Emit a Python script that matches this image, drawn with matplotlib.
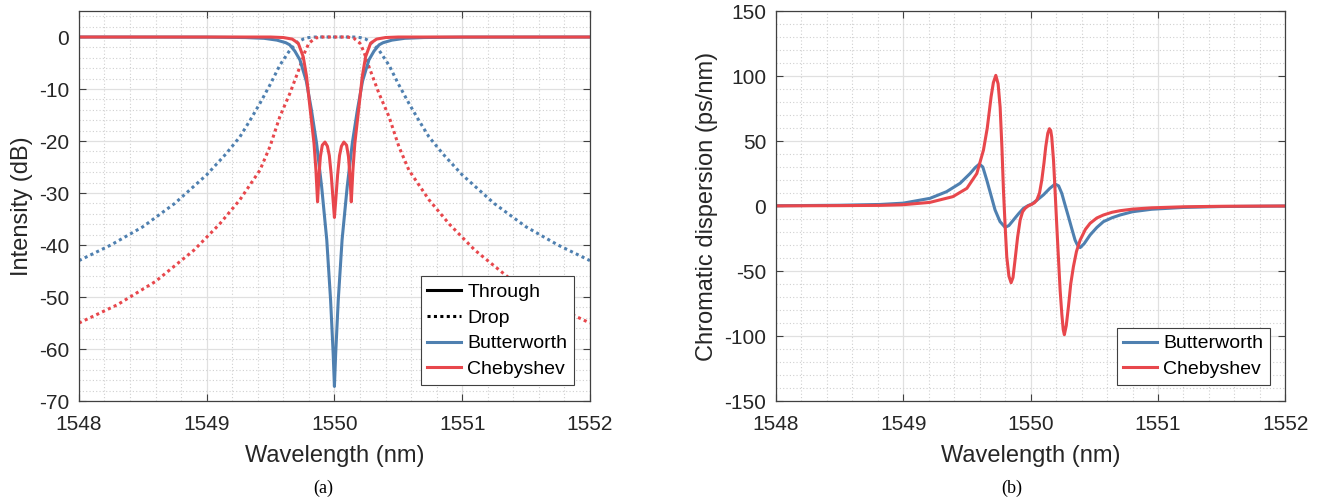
import matplotlib
matplotlib.use("Agg")
import matplotlib.pyplot as plt
from matplotlib.ticker import MultipleLocator

plt.rcParams['font.family'] = ['Liberation Sans', 'DejaVu Sans']
plt.rcParams['axes.unicode_minus'] = False

blue = '#4f80b0'
red = '#e8474c'
axcol = '#404040'

# ---- (a) transmission spectra, intensity in dB ----
wl_bw_thru = [1548.0, 1549.0, 1549.3, 1549.45, 1549.55, 1549.62, 1549.65, 1549.69, 1549.73,
              1549.78, 1549.82, 1549.86, 1549.90, 1549.94, 1549.97, 1549.99, 1550.0,
              1550.01, 1550.03, 1550.06, 1550.10, 1550.14, 1550.18, 1550.22, 1550.27,
              1550.31, 1550.35, 1550.38, 1550.45, 1550.55, 1550.7, 1551.0, 1552.0]
db_bw_thru = [0.0, -0.02, -0.1, -0.25, -0.6, -1.1, -1.5, -2.7, -4.4,
              -8.5, -14.0, -20.4, -28.8, -39.0, -50.6, -60.8, -67.2,
              -60.8, -50.6, -39.0, -28.8, -20.4, -14.0, -8.5, -4.4,
              -2.7, -1.5, -1.1, -0.6, -0.25, -0.1, -0.02, 0.0]

wl_cb_thru = [1548.0, 1549.5, 1549.6, 1549.67, 1549.717, 1549.756, 1549.782, 1549.808,
              1549.84, 1549.855, 1549.868, 1549.878, 1549.89, 1549.905, 1549.926, 1549.945,
              1549.96, 1549.975, 1549.99, 1550.0, 1550.01, 1550.025, 1550.04, 1550.055,
              1550.074, 1550.095, 1550.11, 1550.122, 1550.132, 1550.145, 1550.16, 1550.192,
              1550.218, 1550.244, 1550.283, 1550.33, 1550.4, 1550.5, 1552.0]
db_cb_thru = [0.0, 0.0, -0.1, -0.4, -1.2, -3.8, -7.6, -13.4,
              -20.4, -25.5, -31.7, -27.0, -23.0, -20.8, -20.2, -21.0,
              -22.8, -26.5, -31.5, -34.7, -31.5, -26.5, -22.8, -21.0,
              -20.2, -20.8, -23.0, -27.0, -31.7, -25.5, -20.4, -13.4,
              -7.6, -3.8, -1.2, -0.4, -0.1, 0.0, 0.0]

wl_bw_drop = [1548.0, 1548.25, 1548.5, 1548.75, 1549.0, 1549.15, 1549.26, 1549.34, 1549.417,
              1549.5, 1549.573, 1549.652, 1549.717, 1549.76, 1549.8, 1549.85, 1550.0,
              1550.15, 1550.2, 1550.24, 1550.283, 1550.348, 1550.427, 1550.5, 1550.583,
              1550.66, 1550.74, 1550.85, 1551.0, 1551.25, 1551.5, 1551.75, 1552.0]
db_bw_drop = [-43.0, -40.0, -36.5, -32.0, -26.5, -22.5, -19.2, -16.0, -12.75,
              -9.0, -5.4, -2.5, -0.9, -0.35, -0.1, 0.0, 0.0,
              0.0, -0.1, -0.35, -0.9, -2.5, -5.4, -9.0, -12.75,
              -16.0, -19.2, -22.5, -26.5, -32.0, -36.5, -40.0, -43.0]

wl_cb_drop = [1548.0, 1548.3, 1548.6, 1548.9, 1549.1, 1549.26, 1549.417, 1549.495, 1549.573,
              1549.652, 1549.73, 1549.77, 1549.8, 1549.85, 1549.9, 1550.0,
              1550.1, 1550.15, 1550.2, 1550.23, 1550.27, 1550.348, 1550.427, 1550.505,
              1550.583, 1550.74, 1550.9, 1551.1, 1551.4, 1551.7, 1552.0]
db_cb_drop = [-55.0, -51.5, -47.0, -41.0, -36.0, -31.3, -25.6, -21.1, -15.3,
              -10.8, -5.7, -2.8, -1.2, -0.2, 0.0, 0.0,
              0.0, -0.2, -1.2, -2.8, -5.7, -10.8, -15.3, -21.1,
              -25.6, -31.3, -36.0, -41.0, -47.0, -51.5, -55.0]

# ---- (b) chromatic dispersion, ps/nm ----
wl_bw_cd = [1548.0, 1548.5, 1548.82, 1549.0, 1549.21, 1549.34, 1549.447, 1549.525, 1549.565,
            1549.598, 1549.625, 1549.656, 1549.69, 1549.721, 1549.76, 1549.80, 1549.83,
            1549.865, 1549.905, 1549.944, 1549.98, 1550.009, 1550.05, 1550.10, 1550.15,
            1550.192, 1550.22, 1550.245, 1550.27, 1550.297, 1550.325, 1550.349, 1550.37,
            1550.389, 1550.42, 1550.467, 1550.52, 1550.572, 1550.64, 1550.703, 1550.8,
            1550.95, 1551.2, 1551.5, 1552.0]
cd_bw = [0.2, 0.6, 1.2, 2.2, 5.9, 11.0, 17.5, 25.0, 29.5,
         32.3, 30.0, 20.0, 8.0, -3.0, -12.0, -16.4, -15.0,
         -10.8, -6.0, -1.8, 0.3, 1.5, 4.5, 8.5, 13.5,
         16.9, 15.5, 9.7, 1.0, -8.2, -18.0, -26.2, -30.5,
         -32.0, -29.0, -22.3, -16.5, -12.0, -9.0, -6.9, -4.4,
         -2.5, -1.1, -0.4, 0.0]

wl_cb_cd = [1548.0, 1548.5, 1548.82, 1549.0, 1549.21, 1549.39, 1549.5, 1549.578, 1549.63,
            1549.66, 1549.69, 1549.708, 1549.727, 1549.745, 1549.761, 1549.775, 1549.787,
            1549.80, 1549.813, 1549.83, 1549.847, 1549.862, 1549.878, 1549.898, 1549.918,
            1549.937, 1549.957, 1549.98, 1550.009, 1550.03, 1550.049, 1550.07, 1550.088,
            1550.105, 1550.119, 1550.135, 1550.148, 1550.158, 1550.166, 1550.18, 1550.192,
            1550.205, 1550.218, 1550.232, 1550.245, 1550.256, 1550.265, 1550.28, 1550.297,
            1550.315, 1550.336, 1550.36, 1550.389, 1550.43, 1550.467, 1550.52, 1550.572,
            1550.64, 1550.703, 1550.8, 1550.95, 1551.2, 1551.5, 1552.0]
cd_cb = [0.1, 0.3, 0.5, 1.0, 2.8, 7.2, 13.6, 25.0, 43.0,
         60.0, 84.0, 95.0, 100.5, 94.0, 76.0, 45.0, 12.0,
         -15.0, -39.0, -54.0, -59.0, -55.0, -41.5, -24.0, -10.8,
         -4.5, -1.8, 0.0, 1.3, 2.5, 4.6, 10.0, 20.0,
         33.0, 45.6, 56.0, 59.5, 58.0, 53.0, 35.0, 12.0,
         -14.0, -39.0, -65.0, -83.0, -95.0, -99.0, -92.0, -77.5,
         -60.0, -46.7, -35.0, -26.2, -18.0, -13.3, -9.2, -6.9,
         -4.8, -3.6, -2.4, -1.4, -0.6, -0.2, 0.0]

lw = 2.2
dots = (1.0, 1.1)


def style_axes(ax):
    ax.set_xlim(1548, 1552)
    ax.xaxis.set_major_locator(MultipleLocator(1))
    ax.xaxis.set_minor_locator(MultipleLocator(0.2))
    ax.set_axisbelow(True)
    ax.grid(which='major', color='#e0e0e0', lw=0.9, ls='-')
    ax.grid(which='minor', color='#d0d0d0', lw=0.8, ls=(0, (1, 2)))
    ax.tick_params(which='major', direction='in', length=5, width=0.8, top=True, right=True,
                   labelsize=15, colors=axcol, labelcolor='#262626')
    ax.tick_params(axis='x', which='major', pad=10)
    ax.tick_params(axis='y', which='major', pad=7)
    ax.tick_params(which='minor', length=0)
    for s in ax.spines.values():
        s.set_color(axcol)
        s.set_linewidth(0.9)
    ax.set_xlabel("Wavelength (nm)", fontsize=17, color='#262626', labelpad=8)


fig = plt.figure(figsize=(13.2, 5.01), dpi=100)

ax1 = fig.add_axes([0.0598, 0.1996, 0.3871, 0.7784])
ax1.plot(wl_bw_drop, db_bw_drop, color=blue, lw=lw, ls=(0, dots))
ax1.plot(wl_cb_drop, db_cb_drop, color=red, lw=lw, ls=(0, dots))
ax1.plot(wl_bw_thru, db_bw_thru, color=blue, lw=lw)
ax1.plot(wl_cb_thru, db_cb_thru, color=red, lw=lw)
ax1.set_ylim(-70, 5)
ax1.yaxis.set_major_locator(MultipleLocator(10))
ax1.yaxis.set_minor_locator(MultipleLocator(2))
style_axes(ax1)
ax1.set_ylabel("Intensity (dB)", fontsize=17, color='#262626', labelpad=4)

# legend: line style meaning first, then filter colour
h1, = ax1.plot([], [], color='black', lw=lw)
h2, = ax1.plot([], [], color='black', lw=lw, ls=(0, dots))
h3, = ax1.plot([], [], color=blue, lw=lw)
h4, = ax1.plot([], [], color=red, lw=lw)
leg1 = ax1.legend([h1, h2, h3, h4], ["Through", "Drop", "Butterworth", "Chebyshev"],
                  loc='lower right', bbox_to_anchor=(0.969, 0.041), borderaxespad=0,
                  fontsize=14, frameon=True, fancybox=False, framealpha=1,
                  edgecolor=axcol, handlelength=1.75, handletextpad=0.3,
                  labelspacing=0.42, borderpad=0.35)
leg1.get_frame().set_linewidth(0.8)

ax2 = fig.add_axes([0.5877, 0.1996, 0.3861, 0.7784])
ax2.plot(wl_bw_cd, cd_bw, color=blue, lw=lw, label="Butterworth")
ax2.plot(wl_cb_cd, cd_cb, color=red, lw=lw, label="Chebyshev")
ax2.set_ylim(-150, 150)
ax2.yaxis.set_major_locator(MultipleLocator(50))
ax2.yaxis.set_minor_locator(MultipleLocator(10))
style_axes(ax2)
ax2.set_ylabel("Chromatic dispersion (ps/nm)", fontsize=17, color='#262626', labelpad=4)
leg2 = ax2.legend(loc='lower right', bbox_to_anchor=(0.97, 0.041), borderaxespad=0,
                  fontsize=14, frameon=True, fancybox=False, framealpha=1,
                  edgecolor=axcol, handlelength=1.75, handletextpad=0.3,
                  labelspacing=0.42, borderpad=0.35)
leg2.get_frame().set_linewidth(0.8)

fig.text(0.2447, 0.026, "(a)", ha='center', va='center', fontsize=13, family='Liberation Serif')
fig.text(0.7667, 0.026, "(b)", ha='center', va='center', fontsize=13, family='Liberation Serif')

fig.savefig("out.png", dpi=100)
